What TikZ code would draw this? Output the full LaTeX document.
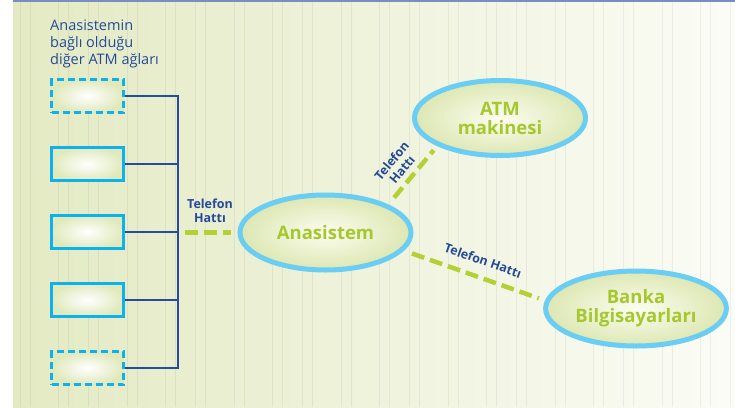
\documentclass[tikz,border=0pt]{standalone}
\usepackage{fontspec}
\setmainfont{Open Sans}
\usepackage{tikz}
\usetikzlibrary{positioning, calc}
\usetikzlibrary{shapes}
\definecolor{bgleft}{HTML}{E3EAC3}
\definecolor{bgright}{HTML}{FBFCF6}
\definecolor{topblue}{HTML}{7A8CC4}
\definecolor{labelblue}{HTML}{254A9A}
\definecolor{busblue}{HTML}{284C9C}
\definecolor{boxcyan}{HTML}{0FB1EC}
\definecolor{boxfill}{HTML}{E0E9BC}
\definecolor{ringblue}{HTML}{6ACDF4}
\definecolor{nodein}{HTML}{FBFDF1}
\definecolor{nodeout}{HTML}{DDE7B2}
\definecolor{textgreen}{HTML}{A6C82E}
\definecolor{hatgreen}{HTML}{B3D034}

\begin{document}
\begin{tikzpicture}[x=1pt,y=-1pt]
	\def \boxcol{87.5}
	\def \buscol{178}
	\tikzstyle{net-box}=[rectangle,draw=boxcyan,line width=3pt,minimum width=72pt,minimum height=33pt,inner sep=0pt,inner color=white,outer color=boxfill]
	\tikzstyle{far-box}=[net-box,dash pattern=on 7pt off 4pt]
	\tikzstyle{sys-node}=[ellipse,draw=ringblue,line width=5pt,minimum width=171pt,minimum height=75pt,inner color=nodein,outer color=nodeout,text=textgreen,align=center,font=\fontsize{18.5}{19}\selectfont\bfseries]
	\tikzstyle{bus}=[draw=busblue,line width=2.7pt]
	\tikzstyle{hat}=[draw=hatgreen,line width=4.5pt,dash pattern=on 13pt off 6pt]
	\tikzstyle{annot}=[text=labelblue,align=center,inner sep=1pt,font=\fontsize{12.5}{13.5}\selectfont\bfseries]
	\useasboundingbox (0,0) rectangle (735,407);
	% background
	\shade[left color=bgleft,right color=bgright] (13,2) rectangle (735,407);
	\foreach \p in {20,127,...,730}
		\foreach \o in {0,38,68} {
			\draw[black,opacity=0.05,line width=0.8pt] (\p+\o,2) -- (\p+\o,407);
			\draw[black,opacity=0.05,line width=0.8pt] (\p+\o+10,2) -- (\p+\o+10,407);
		}
	\draw[topblue,line width=1.5pt] (13,0.75) -- (735,0.75);
	% labels
	\node[text=labelblue,align=left,anchor=north west,inner sep=0pt,font=\fontsize{14.5}{17}\selectfont] (net-label) at (50,19.5) {Anasistemin\\bağlı olduğu\\diğer ATM ağları};

	% atm networks
	\node[far-box] 	(b1)	at (\boxcol,96)		{};
	\node[net-box] 	(b2)	at (\boxcol,164)	{};
	\node[net-box] 	(b3)	at (\boxcol,232)	{};
	\node[net-box] 	(b4)	at (\boxcol,300)	{};
	\node[far-box] 	(b5)	at (\boxcol,368)	{};

	% systems
	\node[sys-node]	(ana)	at (325.5,232.5)	{Anasistem};
	\node[sys-node]	(atm)	at (500,118)		{ATM\\makinesi};
	\node[sys-node]	(bank)	at (636,308.5)		{Banka\\Bilgisayarları};

	% bus
	\coordinate (bus1) at (\buscol,96);
	\coordinate (bus5) at (\buscol,368);
	\coordinate (tap) at (\buscol,232.5);
	\draw[bus] (b1.east) -- (bus1) -- (bus5) -- (b5.east);
	\foreach \i in {2,3,4}
		\draw[bus] (b\i.east) -- (b\i.east -| bus1);

	% phone lines
	\path[hat] (tap)	edge[shorten <=7pt,shorten >=7pt]	(ana.west);
	\node[annot] (tel-left) at (210,211) {Telefon\\Hattı};
	\path[hat] (ana.24)	edge[shorten <=9pt,shorten >=5.5pt]	node[annot,sloped,above=4pt,pos=0.47] {Telefon\\Hattı}	(atm.204)
		(ana.347)	edge[shorten <=8.5pt,shorten >=6.5pt]	node[annot,sloped,above=9pt,pos=0.52] {Telefon Hattı}	(bank.175.5);
\end{tikzpicture}
\end{document}
